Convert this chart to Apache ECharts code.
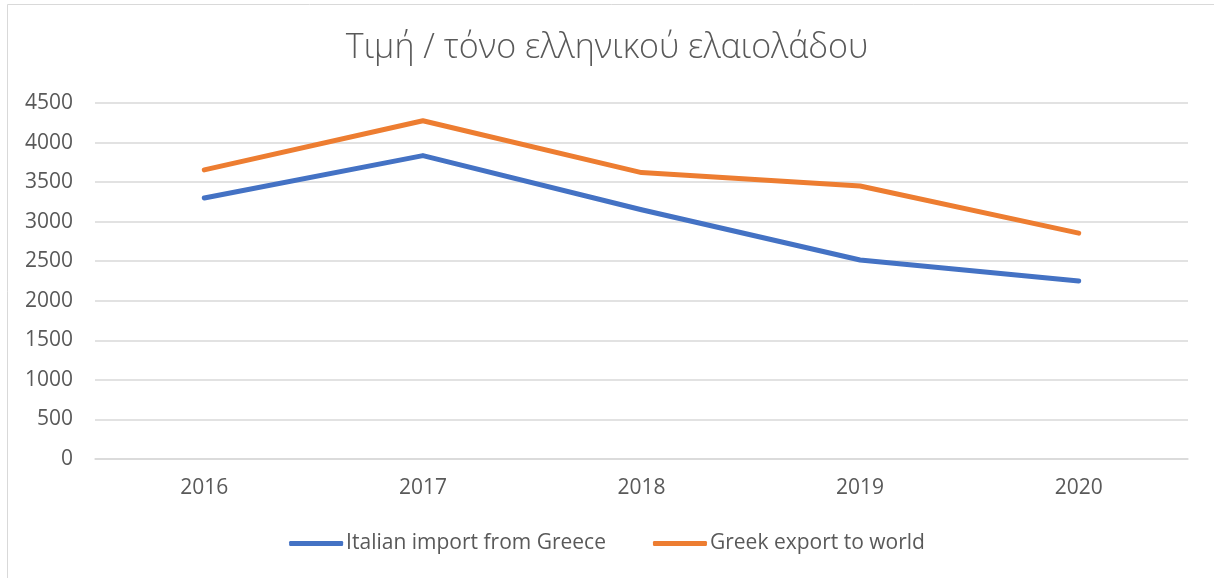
<!DOCTYPE html>
<html>
<head>
<meta charset="utf-8">
<script src="https://cdn.jsdelivr.net/npm/echarts@6/dist/echarts.min.js"></script>
<style>
html,body{margin:0;padding:0;background:#fff;}
#chart{width:1214px;height:578px;}
</style>
</head>
<body>
<div id="chart"></div>
<script>
const titleText = 'Τιμή / τόνο ελληνικού ελαιολάδου';
const years = ['2016', '2017', '2018', '2019', '2020'];
const seriesNames = ['Italian import from Greece', 'Greek export to world'];
const italianImport = [3300, 3835, 3150, 2515, 2250];
const greekExport = [3655, 4275, 3620, 3450, 2855];
const colors = ['#4472C4', '#ED7D31'];

const font = '"Open Sans", "Noto Sans", sans-serif';
const chart = echarts.init(document.getElementById('chart'));
chart.setOption({
  backgroundColor: '#fff',
  animation: false,
  title: {
    text: titleText,
    left: 'center',
    top: 26,
    textStyle: { fontFamily: font, fontSize: 34, fontWeight: 300, color: '#595959' }
  },
  graphic: [{
    type: 'rect',
    shape: { x: 7.5, y: 4.5, width: 1230, height: 600 },
    style: { fill: 'none', stroke: '#d9d9d9', lineWidth: 1 },
    silent: true
  }],
  legend: {
    bottom: 19,
    left: 'center',
    itemWidth: 54,
    itemHeight: 5,
    itemGap: 47,
    icon: 'roundRect',
    textStyle: { fontFamily: font, fontSize: 21, color: '#595959', padding: [0, 0, 0, -2] },
    data: seriesNames
  },
  grid: { left: 95, right: 26, top: 103, bottom: 119 },
  xAxis: {
    type: 'category',
    data: years,
    boundaryGap: true,
    axisLine: { show: true, lineStyle: { color: '#d9d9d9', width: 1.5 } },
    axisTick: { show: false },
    axisLabel: { fontFamily: font, fontSize: 21, color: '#595959', margin: 19 }
  },
  yAxis: {
    type: 'value',
    min: 0,
    max: 4500,
    interval: 500,
    axisLine: { show: false },
    axisTick: { show: false },
    axisLabel: { fontFamily: font, fontSize: 21, color: '#595959', margin: 22, formatter: function (v) { return String(v); } },
    splitLine: { lineStyle: { color: '#d9d9d9', width: 1.5 } }
  },
  series: [
    {
      name: seriesNames[0], type: 'line', data: italianImport,
      color: colors[0], showSymbol: false, symbol: 'none',
      lineStyle: { width: 5, cap: 'round', join: 'round', color: colors[0] }
    },
    {
      name: seriesNames[1], type: 'line', data: greekExport,
      color: colors[1], showSymbol: false, symbol: 'none',
      lineStyle: { width: 5, cap: 'round', join: 'round', color: colors[1] }
    }
  ]
});
</script>
</body>
</html>
